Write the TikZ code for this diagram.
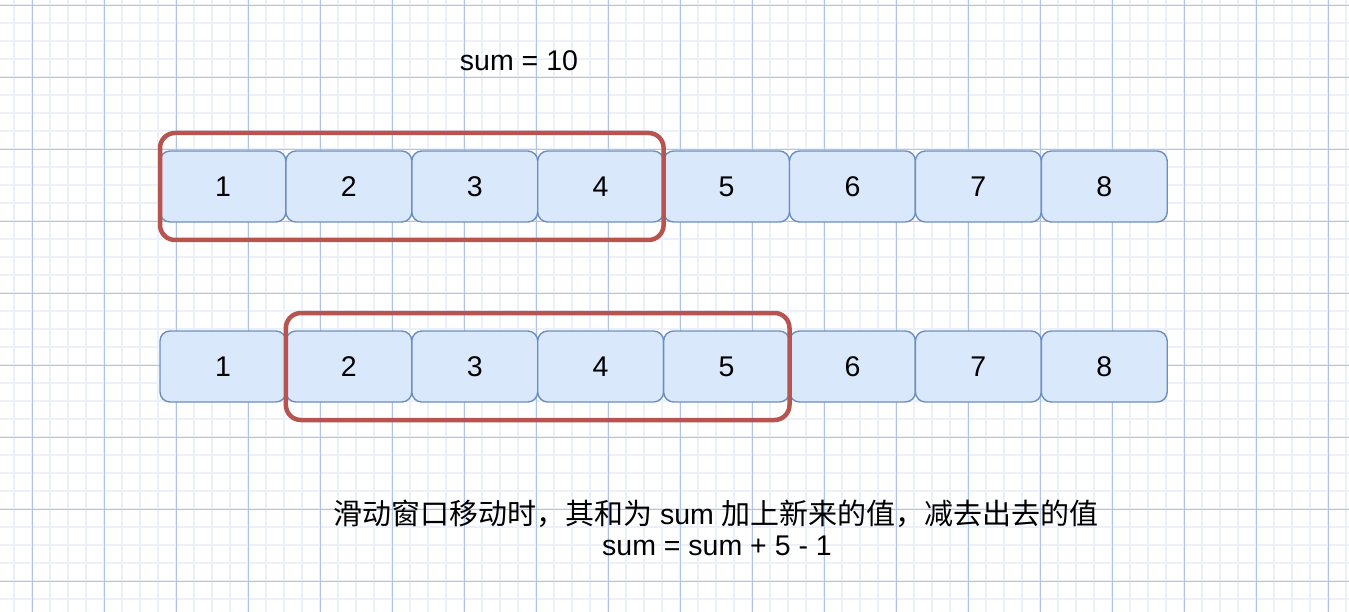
\documentclass[tikz,border=0pt]{standalone}
\usepackage{fontspec}
\setmainfont{Liberation Sans}
\newfontfamily\cjk{Noto Sans CJK SC}
\usetikzlibrary{fit}
\definecolor{gridminor}{HTML}{EBF0FA}
\definecolor{gridmajor}{HTML}{ADC3E8}
\definecolor{cellfill}{HTML}{DAE8FC}
\definecolor{celldraw}{HTML}{6C8EBF}
\definecolor{winred}{HTML}{B85450}
\begin{document}
\begin{tikzpicture}[x=1pt,y=-1pt,
  txt/.style={font=\fontsize{28.5}{34}\selectfont, inner sep=0pt},
  cell/.style={draw=celldraw, fill=cellfill, line width=1.4pt, rounded corners=10pt,
    minimum width=125.9pt, minimum height=71pt, inner sep=0pt, outer sep=0pt, anchor=north west,
    font=\fontsize{28.5}{34}\selectfont},
  window/.style={draw=winred, line width=4.5pt, rounded corners=15pt, inner xsep=0pt, inner ysep=18pt, outer sep=0pt}]
\useasboundingbox (0,0) rectangle (1349,612);
\fill[white] (0,0) rectangle (1349,612);
% minor grid
\foreach \i in {0,...,74} {
  \draw[gridminor, line width=1.7pt] ({14.3+18*\i},0) -- ({14.3+18*\i},612);
}
\foreach \i in {0,...,34} {
  \draw[gridminor, line width=1.7pt] (0,{5.3+18*\i}) -- (1349,{5.3+18*\i});
}
% major grid
\foreach \i in {0,...,18} {
  \draw[gridmajor, line width=1pt] ({32.3+72*\i},0) -- ({32.3+72*\i},612);
}
\foreach \i in {0,...,8} {
  \draw[gridmajor, line width=1pt] (0,{5.3+72*\i}) -- (1349,{5.3+72*\i});
}
% row 1
\foreach \n in {1,...,8} {
  \node[cell] (a\n) at ({160+125.9*(\n-1)},151) {\n};
}
% row 2
\foreach \n in {1,...,8} {
  \node[cell] (b\n) at ({160+125.9*(\n-1)},331) {\n};
}
\node[window, fit=(a1)(a4)] (w1) {};
\node[window, fit=(b2)(b5)] (w2) {};
\node[txt, anchor=base] (sum) at (519,70.7) {sum = 10};
\node[txt, anchor=base] (desc) at (716,524.5) {{\cjk\fontsize{29}{34}\selectfont 滑动窗口移动时，其和为} sum {\cjk\fontsize{29}{34}\selectfont 加上新来的值，减去出去的值}};
\node[txt, anchor=base] (eq) at (717,555.3) {sum = sum + 5 - 1};
\end{tikzpicture}
\end{document}
